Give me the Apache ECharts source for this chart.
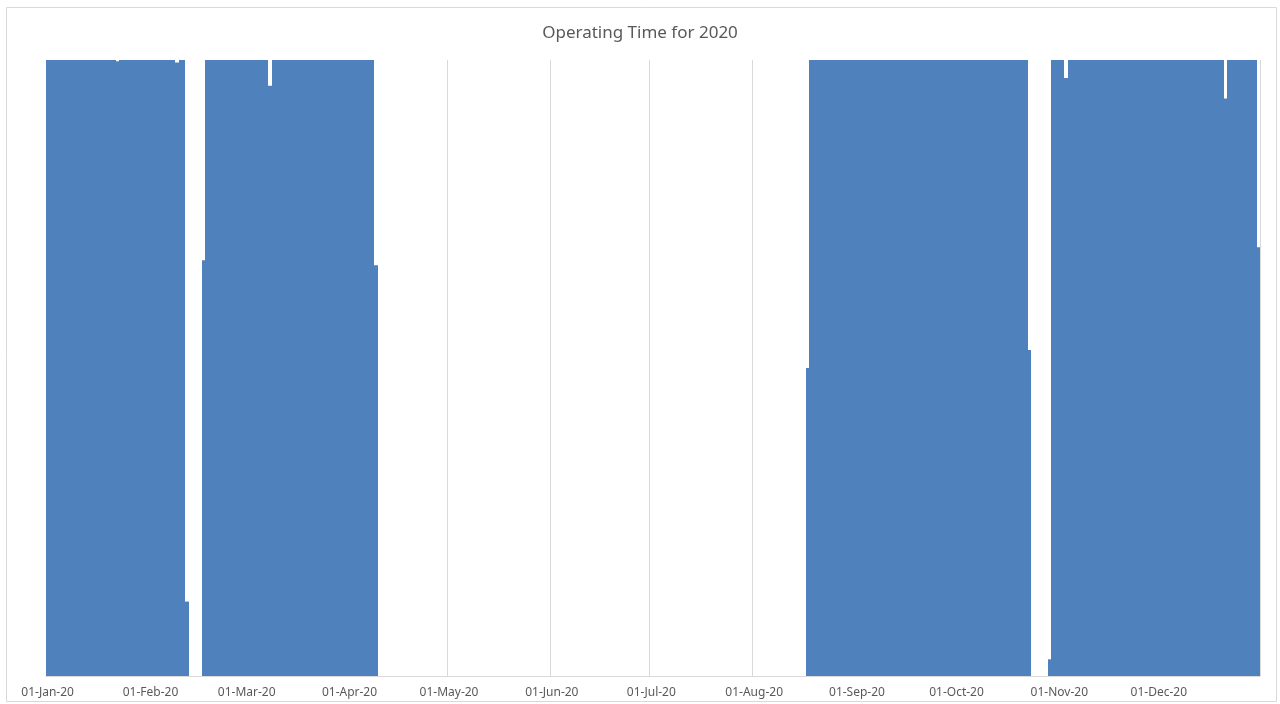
<!DOCTYPE html>
<html>
<head>
<meta charset="utf-8">
<title>Operating Time for 2020</title>
<script src="https://cdn.jsdelivr.net/npm/echarts@6/dist/echarts.min.js"></script>
<style>
  html, body { margin: 0; padding: 0; background: #ffffff; }
  #chart { width: 1280px; height: 704px; }
</style>
</head>
<body>
<div id="chart"></div>
<script>
// Operating hours per day, 2020, one array per month
const jan = [24,24,24,24,24,24,24,24,24,24,24,24,24,24,24,24,24,24,24,24,24,23.95,24,24,24,24,24,24,24,24,24];
const feb = [24,24,24,24,24,24,24,24,23.9,24,24,2.9,0,0,0,0,16.2,24,24,24,24,24,24,24,24,24,24,24,24];
const mar = [24,24,24,24,24,24,24,23.0,24,24,24,24,24,24,24,24,24,24,24,24,24,24,24,24,24,24,24,24,24,24,24];
const apr = [24,24,24,24,24,24,24,24,16.0,0,0,0,0,0,0,0,0,0,0,0,0,0,0,0,0,0,0,0,0,0];
const may = [0,0,0,0,0,0,0,0,0,0,0,0,0,0,0,0,0,0,0,0,0,0,0,0,0,0,0,0,0,0,0];
const jun = [0,0,0,0,0,0,0,0,0,0,0,0,0,0,0,0,0,0,0,0,0,0,0,0,0,0,0,0,0,0];
const jul = [0,0,0,0,0,0,0,0,0,0,0,0,0,0,0,0,0,0,0,0,0,0,0,0,0,0,0,0,0,0,0];
const aug = [0,0,0,0,0,0,0,0,0,0,0,0,0,0,0,0,12.0,24,24,24,24,24,24,24,24,24,24,24,24,24,24];
const sep = [24,24,24,24,24,24,24,24,24,24,24,24,24,24,24,24,24,24,24,24,24,24,24,24,24,24,24,24,24,24];
const oct = [24,24,24,24,24,24,24,24,24,24,24,24,24,24,24,24,24,24,24,24,24,24,12.7,0,0,0,0,0,0.65,24,24];
const nov = [24,24,23.3,24,24,24,24,24,24,24,24,24,24,24,24,24,24,24,24,24,24,24,24,24,24,24,24,24,24,24];
const dec = [24,24,24,24,24,24,24,24,24,24,24,24,24,24,24,24,24,24,24,24,22.5,24,24,24,24,24,24,24,24,24,16.7];

const monthNames = ['Jan','Feb','Mar','Apr','May','Jun','Jul','Aug','Sep','Oct','Nov','Dec'];
const monthData = [jan, feb, mar, apr, may, jun, jul, aug, sep, oct, nov, dec];
const yearSuffix = '20';
const titleText = 'Operating Time for 2020';

// Build category labels (one per day) and the [dayIndex, hours] pairs
const categories = [];
const points = [];
monthData.forEach(function (arr, m) {
  arr.forEach(function (v, d) {
    const dd = String(d + 1).padStart(2, '0');
    points.push([categories.length, v]);
    categories.push(dd + '-' + monthNames[m] + '-' + yearSuffix);
  });
});

const isMonthStart = function (index, value) {
  return typeof categories[index] === 'string' && categories[index].indexOf('01-') === 0;
};

// One column per day, placed with the axis scales; edges snapped to whole pixels
// so neighbouring columns join without seams (as in the original column chart).
function renderDay(params, api) {
  const idx = api.value(0);
  const val = api.value(1);
  if (!(val > 0)) return null;
  const top = api.coord([idx, val]);
  const base = api.coord([idx, 0]);
  const bw = api.size([1, 0])[0];
  const x0 = Math.round(top[0] - bw / 2);
  const x1 = Math.round(top[0] + bw / 2);
  return {
    type: 'rect',
    shape: { x: x0, y: top[1], width: x1 - x0, height: base[1] - top[1] },
    style: { fill: '#4F81BD' }
  };
}

const chart = echarts.init(document.getElementById('chart'), null, { renderer: 'canvas' });
chart.setOption({
  backgroundColor: '#ffffff',
  animation: false,
  title: {
    text: titleText,
    left: 'center',
    top: 20,
    textStyle: {
      fontFamily: 'Noto Sans',
      fontSize: 17,
      fontWeight: 'normal',
      color: '#595959'
    }
  },
  graphic: [{
    type: 'rect',
    silent: true,
    shape: { x: 6.5, y: 7.5, width: 1270, height: 694 },
    style: { fill: 'none', stroke: '#d9d9d9', lineWidth: 1 }
  }],
  grid: { left: 46, right: 20, top: 60, bottom: 28, containLabel: false },
  xAxis: {
    type: 'category',
    data: categories,
    boundaryGap: true,
    axisLine: { show: true, lineStyle: { color: '#d9d9d9', width: 1 } },
    axisTick: { show: false },
    axisLabel: {
      interval: isMonthStart,
      fontFamily: 'Noto Sans',
      fontSize: 12,
      color: '#595959',
      margin: 11
    },
    splitLine: {
      show: true,
      interval: isMonthStart,
      lineStyle: { color: '#d9d9d9', width: 1 }
    }
  },
  yAxis: {
    type: 'value',
    min: 0,
    max: 24,
    show: false,
    splitLine: { show: false }
  },
  series: [{
    type: 'custom',
    name: 'Operating Time',
    renderItem: renderDay,
    encode: { x: 0, y: 1 },
    data: points
  }]
});
</script>
</body>
</html>
